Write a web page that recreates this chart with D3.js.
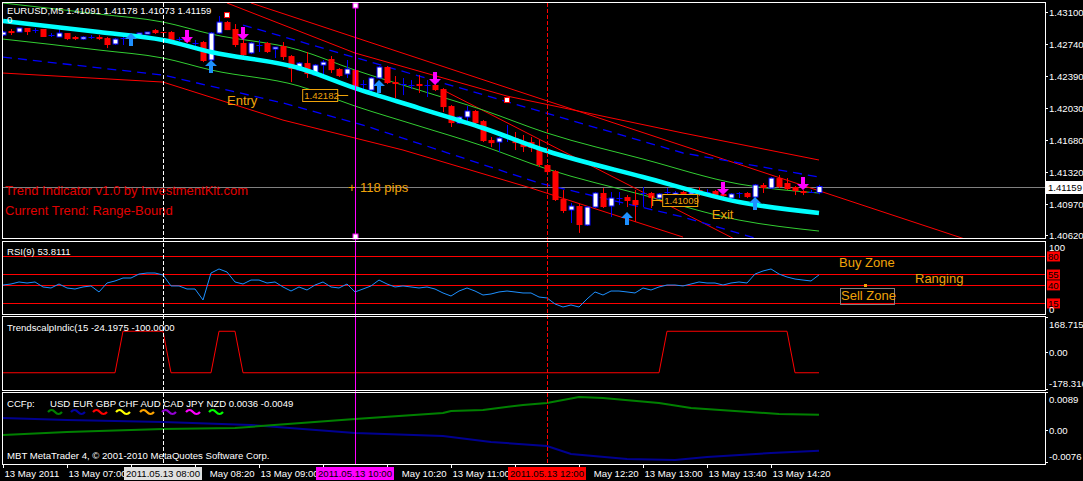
<!DOCTYPE html>
<html><head><meta charset="utf-8">
<script src="https://cdn.jsdelivr.net/npm/d3@7/dist/d3.min.js"></script>
<style>
body{margin:0;background:#000;}
svg{display:block;}
text{font-family:"Liberation Sans",Arial,sans-serif;}
</style></head><body>
<svg id="c" width="1083" height="481"></svg>
<script>
// ---------------- DATA ----------------
const headerText = "EURUSD,M5  1.41091 1.41178 1.41073 1.41159";
const startTime = "06:20";
const barMinutes = 5;
const open  = [1.42844,1.42888,1.42877,1.42922,1.42899,1.42911,1.42844,1.42822,1.42866,1.42822,1.42799,1.42822,1.42822,1.42810,1.42744,1.42810,1.42844,1.42844,1.42855,1.42899,1.42877,1.42877,1.42799,1.42810,1.42755,1.42766,1.42566,1.42866,1.42988,1.42911,1.42755,1.42644,1.42733,1.42755,1.42688,1.42721,1.42610,1.42454,1.42532,1.42399,1.42510,1.42577,1.42466,1.42410,1.42454,1.42299,1.42232,1.42366,1.42488,1.42321,1.42299,1.42288,1.42299,1.42288,1.42288,1.42243,1.42054,1.41865,1.41932,1.41999,1.41887,1.41676,1.41654,1.41709,1.41698,1.41642,1.41654,1.41587,1.41398,1.41331,1.41020,1.40898,1.40942,1.40731,1.40931,1.41087,1.40942,1.41031,1.41042,1.41009,1.41087,1.41087,1.41031,1.41098,1.41064,1.41098,1.41076,1.41120,1.41098,1.41109,1.41076,1.41031,1.41087,1.41087,1.41042,1.41176,1.41142,1.41253,1.41198,1.41154,1.41109,1.41098,1.41091];
const high  = [1.42888,1.42911,1.42922,1.42922,1.42922,1.42911,1.42866,1.42922,1.42866,1.42833,1.42833,1.42844,1.42844,1.42822,1.42810,1.42822,1.42855,1.42866,1.42877,1.42911,1.42877,1.42888,1.42822,1.42822,1.42788,1.42777,1.42877,1.43055,1.43000,1.42966,1.42788,1.42766,1.42788,1.42766,1.42710,1.42766,1.42621,1.42543,1.42655,1.42521,1.42566,1.42610,1.42477,1.42566,1.42466,1.42343,1.42377,1.42499,1.42499,1.42388,1.42366,1.42343,1.42399,1.42343,1.42299,1.42254,1.42065,1.41943,1.42054,1.42010,1.41898,1.41709,1.41709,1.41843,1.41765,1.41732,1.41709,1.41676,1.41409,1.41342,1.41120,1.40976,1.40964,1.40942,1.41098,1.41142,1.41098,1.41098,1.41064,1.41120,1.41154,1.41098,1.41087,1.41142,1.41109,1.41109,1.41109,1.41154,1.41131,1.41120,1.41087,1.41087,1.41098,1.41098,1.41187,1.41198,1.41264,1.41287,1.41253,1.41165,1.41120,1.41120,1.41178];
const low   = [1.42833,1.42844,1.42877,1.42844,1.42866,1.42822,1.42822,1.42822,1.42788,1.42788,1.42788,1.42799,1.42788,1.42699,1.42733,1.42733,1.42822,1.42844,1.42855,1.42855,1.42866,1.42766,1.42777,1.42755,1.42721,1.42543,1.42555,1.42855,1.42899,1.42710,1.42610,1.42632,1.42655,1.42644,1.42588,1.42566,1.42321,1.42443,1.42366,1.42388,1.42377,1.42421,1.42377,1.42366,1.42254,1.42232,1.42221,1.42354,1.42299,1.42143,1.42176,1.42243,1.42199,1.42154,1.42221,1.41988,1.41821,1.41854,1.41865,1.41854,1.41654,1.41598,1.41543,1.41654,1.41565,1.41543,1.41543,1.41376,1.41309,1.40998,1.40864,1.40753,1.40643,1.40720,1.40920,1.40920,1.40820,1.40953,1.40931,1.40764,1.40931,1.40920,1.41020,1.41042,1.41053,1.41053,1.41064,1.41053,1.41064,1.41053,1.41042,1.41020,1.41031,1.41031,1.41031,1.41087,1.41131,1.41142,1.41120,1.41064,1.41064,1.41087,1.41073];
const close = [1.42877,1.42866,1.42922,1.42877,1.42899,1.42822,1.42844,1.42866,1.42799,1.42799,1.42822,1.42822,1.42799,1.42733,1.42799,1.42810,1.42844,1.42866,1.42877,1.42866,1.42866,1.42777,1.42799,1.42766,1.42755,1.42555,1.42866,1.42988,1.42899,1.42733,1.42621,1.42755,1.42733,1.42655,1.42710,1.42599,1.42466,1.42532,1.42410,1.42510,1.42543,1.42454,1.42388,1.42466,1.42265,1.42299,1.42366,1.42488,1.42310,1.42299,1.42299,1.42288,1.42277,1.42288,1.42232,1.42043,1.41865,1.41932,1.41999,1.41865,1.41665,1.41642,1.41698,1.41709,1.41642,1.41598,1.41587,1.41398,1.41320,1.41009,1.40887,1.40942,1.40731,1.40931,1.41087,1.40931,1.41031,1.41031,1.40998,1.40953,1.41087,1.41031,1.41076,1.41098,1.41087,1.41064,1.41098,1.41064,1.41098,1.41064,1.41053,1.41076,1.41087,1.41042,1.41176,1.41142,1.41253,1.41154,1.41131,1.41109,1.41087,1.41098,1.41159];

// moving average (cyan) and bands: [bar index, price]
const maLine     = [[0,1.43000],[12,1.42877],[20,1.42788],[26,1.42655],[37,1.42477],[44,1.42254],[52,1.42032],[60,1.41810],[68,1.41554],[80,1.41265],[92,1.40987],[102,1.40864]];
const greenUpper = [[0,1.43200],[12,1.43077],[20,1.42988],[26,1.42855],[37,1.42677],[44,1.42454],[52,1.42232],[60,1.42010],[68,1.41754],[80,1.41465],[92,1.41187],[102,1.41087]];
const greenLower = [[0,1.42799],[12,1.42677],[20,1.42588],[26,1.42455],[37,1.42277],[44,1.42054],[52,1.41832],[60,1.41610],[68,1.41354],[80,1.41065],[92,1.40786],[102,1.40664]];
const redUpper   = [[28,1.43200],[44,1.42644],[63,1.42165],[85,1.41754],[102,1.41454]];
const redLong    = [[31,1.43200],[120.25,1.40575]];
const redSteep   = [[55,1.42232],[92,1.40550]];
const redLower   = [[0,1.42421],[20,1.42321],[35,1.41898],[50,1.41565],[66,1.41142],[85,1.40597]];
const blueUpper  = [[30,1.42955],[55,1.42310],[85,1.41532],[102,1.41265]];
const blueLower  = [[0,1.42599],[20,1.42399],[35,1.42088],[45,1.41843],[67,1.41198],[85,1.40820],[94,1.40586]];

const arrowsUp   = [[16,1.42866],[26,1.42566],[47,1.42343],[78,1.40875],[94,1.41042]];
const arrowsDown = [[23,1.42755],[30,1.42788],[54,1.42288],[90,1.41064],[100,1.41120]];
const squareMarks = [[28,1.43066],[63,1.42121]];

const currentPrice = 1.41159;
const priceTicks = [1.43100,1.42740,1.42390,1.42030,1.41680,1.41320,1.40970,1.40620];

const rsiValues = [39.8,41.2,44.0,42.6,44.0,37.1,35.7,41.2,35.7,34.3,37.1,38.5,30.2,42.6,45.4,49.5,49.5,55.0,56.4,56.4,53.7,38.5,38.5,34.3,34.3,19.1,56.4,62.0,57.8,44.0,41.2,46.7,46.7,42.6,44.0,37.1,31.5,37.1,32.9,39.8,44.0,37.1,35.7,41.2,30.2,34.3,38.5,46.7,41.2,37.1,38.5,37.1,35.7,37.1,34.3,28.8,24.6,31.5,35.7,31.5,26.0,27.4,30.2,31.5,30.2,28.8,28.8,23.2,21.9,13.6,9.4,12.2,9.4,20.5,30.2,26.0,31.5,31.5,30.2,28.8,35.7,32.9,37.1,39.8,39.8,38.5,41.2,44.0,42.6,42.6,39.8,42.6,44.0,42.6,55.0,59.2,62.0,55.0,50.9,48.1,46.7,45.4,53.8];
const rsiLast = "53.8111";
const rsiLevels = [80,55,40,15];

const tsValues = [-100,-100,-100,-100,-100,-100,-100,-100,-100,-100,-100,-100,-100,-100,-100,100,100,100,100,100,100,-100,-100,-100,-100,-100,-100,100,100,100,-100,-100,-100,-100,-100,-100,-100,-100,-100,-100,-100,-100,-100,-100,-100,-100,-100,-100,-100,-100,-100,-100,-100,-100,-100,-100,-100,-100,-100,-100,-100,-100,-100,-100,-100,-100,-100,-100,-100,-100,-100,-100,-100,-100,-100,-100,-100,-100,-100,-100,-100,-100,-100,100,100,100,100,100,100,100,100,100,100,100,100,100,100,100,100,-100,-100,-100,-100];

const ccfUSD = [[0,-0.00118],[8,-0.00047],[20,0.00024],[29,0.00047],[44,0.00259],[55,0.00401],[56,0.00448],[60,0.00471],[65,0.00589],[68,0.00637],[72,0.00778],[75,0.00754],[82,0.00637],[86,0.00519],[97,0.00377],[102,0.0036]];
const ccfEUR = [[0,0.00283],[8,0.00236],[20,0.00189],[31,0.00118],[44,-0.00071],[55,-0.00141],[59,-0.00236],[61,-0.00283],[68,-0.00377],[71,-0.00566],[78,-0.00684],[84,-0.00707],[88,-0.00636],[96,-0.00542],[102,-0.0049]];
const ccfNames  = ["USD","EUR","GBP","CHF","AUD","CAD","JPY","NZD"];
const ccfColors = ["#008000","#0000a0","#ff0000","#ffff00","#ffa500","#9400d3","#ff00ff","#00ff00"];

const tickTimes  = ["06:20","07:00","07:40","08:20","09:00","09:40","10:20","11:00","11:40","12:20","13:00","13:40","14:20"];
const tickLabels = ["13 May 2011","13 May 07:00","13 May 07:40","13 May 08:20","13 May 09:00","13 May 09:40","13 May 10:20","13 May 11:00","13 May 11:40","13 May 12:20","13 May 13:00","13 May 13:40","13 May 14:20"];
const vlineTimes  = ["08:00","10:00","12:00"];
const vlineLabels = ["2011.05.13 08:00","2011.05.13 10:00","2011.05.13 12:00"];

// ---------------- CHART ----------------
const svg = d3.select("#c");
const orange = "#f0a30a";
const parse = t => { const [h,m] = t.split(":").map(Number); return new Date(2011,4,13,h,m); };
const t0 = parse(startTime);
const barTime = i => new Date(t0.getTime() + i*barMinutes*60000);
const L = 2, R = 1045;
const x = d3.scaleTime().domain([t0, barTime(130.25)]).range([3, 1045]);
const xb = i => x(barTime(i));

const P = {main:[2,238], rsi:[241,314], ts:[316,390], ccf:[392,464]};
const yP = d3.scaleLinear().domain([1.4062,1.4310]).range([235,12]);
const yR = d3.scaleLinear().domain([0,100]).range([313.8,241.5]);
const yT = d3.scaleLinear().domain([-178.316,168.715]).range([389,317]);
const yC = d3.scaleLinear().domain([-0.0076,0.0089]).range([462.2,392.2]);

svg.append("rect").attr("width",1083).attr("height",481).attr("fill","#000");
const defs = svg.append("defs");
Object.entries(P).forEach(([k,[a,b]]) => {
  defs.append("clipPath").attr("id","clip-"+k).append("rect")
    .attr("x",L+1).attr("y",a+1).attr("width",R-L-1).attr("height",b-a-1);
});
const gMain = svg.append("g").attr("clip-path","url(#clip-main)");
const lineP = d3.line().x(d=>xb(d[0])).y(d=>yP(d[1]));

// current price line
gMain.append("line").attr("x1",L).attr("x2",R).attr("y1",Math.round(yP(currentPrice))+0.5).attr("y2",Math.round(yP(currentPrice))+0.5)
  .attr("stroke","#808080");

[redUpper,redLong,redSteep,redLower].forEach(d=>gMain.append("path").attr("d",lineP(d)).attr("fill","none").attr("stroke","#ff0000").attr("stroke-width",1));
[blueUpper,blueLower].forEach(d=>gMain.append("path").attr("d",lineP(d)).attr("fill","none").attr("stroke","#0000ff").attr("stroke-width",1.3).attr("stroke-dasharray","9,6"));
[greenUpper,greenLower].forEach(d=>gMain.append("path").attr("d",d3.line().curve(d3.curveMonotoneX).x(d=>xb(d[0])).y(d=>yP(d[1]))(d)).attr("fill","none").attr("stroke","#32cd32").attr("stroke-width",1));

// candles
open.forEach((o,i)=>{
  const c = close[i], h = high[i], l = low[i], cx = Math.round(xb(i))+0.5;
  const bull = c > o, doji = Math.abs(c-o) < 0.00002;
  const col = doji ? "#0000ff" : (bull ? "#0000ff" : "#ff0000");
  gMain.append("line").attr("x1",cx).attr("x2",cx).attr("y1",yP(h)).attr("y2",yP(l)).attr("stroke",col);
  const top = yP(Math.max(o,c)), bot = yP(Math.min(o,c));
  if (doji) {
    gMain.append("line").attr("x1",cx-3).attr("x2",cx+3).attr("y1",Math.round(top)+0.5).attr("y2",Math.round(top)+0.5).attr("stroke",col);
  } else if (bull) {
    gMain.append("rect").attr("x",cx-2.5).attr("y",top).attr("width",5).attr("height",Math.max(1,bot-top)).attr("fill","#fff").attr("stroke","#0000ff");
  } else {
    gMain.append("rect").attr("x",cx-3).attr("y",top).attr("width",6).attr("height",Math.max(1,bot-top)).attr("fill","#ff0000");
  }
});

// MA cyan
gMain.append("path").attr("d",d3.line().curve(d3.curveMonotoneX).x(d=>xb(d[0])).y(d=>yP(d[1]))(maLine))
  .attr("fill","none").attr("stroke","#00ffff").attr("stroke-width",4.5);

// arrows
const upPath = "M0,0 L6,6 L2,6 L2,13 L-2,13 L-2,6 L-6,6 Z";
arrowsUp.forEach(([i,p])=>gMain.append("path").attr("d",upPath).attr("transform",`translate(${xb(i)},${yP(p)})`).attr("fill","#1e90ff"));
arrowsDown.forEach(([i,p])=>gMain.append("path").attr("d",upPath).attr("transform",`translate(${xb(i)},${yP(p)}) scale(1,-1)`).attr("fill","#ff00ff"));
squareMarks.forEach(([i,p])=>gMain.append("rect").attr("x",xb(i)-2.5).attr("y",yP(p)-2.5).attr("width",5).attr("height",5).attr("fill","#fff").attr("stroke","#ff0000"));

// annotations
gMain.append("text").attr("x",xb(28)).attr("y",yP(1.42065)).attr("fill",orange).attr("font-size",13).text("Entry");
gMain.append("text").attr("x",xb(88.6)).attr("y",yP(1.40800)).attr("fill",orange).attr("font-size",13).text("Exit");
function priceBox(bar, p, lineDir){
  const bx = xb(bar), by = yP(p);
  gMain.append("rect").attr("x",bx+0.5).attr("y",Math.round(by)-5.5).attr("width",35).attr("height",12).attr("fill","#000").attr("stroke",orange);
  gMain.append("text").attr("x",bx+2).attr("y",Math.round(by)+4).attr("fill",orange).attr("font-size",9.6).text(p.toFixed(5));
  if (lineDir>0) gMain.append("line").attr("x1",bx+35.5).attr("x2",bx+46).attr("y1",Math.round(by)+0.5).attr("y2",Math.round(by)+0.5).attr("stroke",orange);
  else { gMain.append("line").attr("x1",bx-10).attr("x2",bx).attr("y1",Math.round(by)+0.5).attr("y2",Math.round(by)+0.5).attr("stroke",orange);
         gMain.append("line").attr("x1",bx-9.5).attr("x2",bx-9.5).attr("y1",Math.round(by)-4).attr("y2",Math.round(by)+6).attr("stroke",orange); }
}
priceBox(37.4, 1.42182, 1);
priceBox(82.4, 1.41009, -1);
svg.append("text").attr("x",5).attr("y",195).attr("fill","#e00000").attr("font-size",13).text("Trend Indicator v1.0 by InvestmentKit.com");
svg.append("text").attr("x",5).attr("y",215).attr("fill","#e00000").attr("font-size",13).text("Current Trend: Range-Bound");
gMain.append("text").attr("x",xb(44)-7).attr("y",yP(currentPrice)+5).attr("fill",orange).attr("font-size",13).text("+");
gMain.append("text").attr("x",xb(44)+5).attr("y",yP(currentPrice)+5).attr("fill",orange).attr("font-size",13).text("118 pips");

// RSI panel
const gR = svg.append("g").attr("clip-path","url(#clip-rsi)");
rsiLevels.forEach(v=>gR.append("line").attr("x1",L).attr("x2",R).attr("y1",Math.round(yR(v))+0.5).attr("y2",Math.round(yR(v))+0.5).attr("stroke","#ff0000"));
gR.append("path").attr("d",d3.line().x((d,i)=>xb(i)).y(d=>yR(d))(rsiValues)).attr("fill","none").attr("stroke","#1e90ff");
gR.append("text").attr("x",839).attr("y",yR(65)).attr("fill",orange).attr("font-size",13).text("Buy Zone");
gR.append("text").attr("x",915).attr("y",yR(42)).attr("fill",orange).attr("font-size",13).text("Ranging");
gR.append("rect").attr("x",840.5).attr("y",288.5).attr("width",54).attr("height",16).attr("fill","none").attr("stroke","#808080");
gR.append("text").attr("x",841).attr("y",yR(19)).attr("fill",orange).attr("font-size",13).text("Sell Zone");
gR.append("rect").attr("x",864).attr("y",284).attr("width",3).attr("height",3).attr("fill",orange);

// TS panel
const gT = svg.append("g").attr("clip-path","url(#clip-ts)");
gT.append("path").attr("d",d3.line().x((d,i)=>xb(i)).y(d=>yT(d))(tsValues)).attr("fill","none").attr("stroke","#ff0000");

// CCF panel
const gC = svg.append("g").attr("clip-path","url(#clip-ccf)");
const lineC = d3.line().x(d=>xb(d[0])).y(d=>yC(d[1]));
gC.append("path").attr("d",lineC(ccfEUR)).attr("fill","none").attr("stroke","#000090").attr("stroke-width",2);
gC.append("path").attr("d",lineC(ccfUSD)).attr("fill","none").attr("stroke","#008000").attr("stroke-width",2);

// vertical marker lines
const vcol = ["#ffffff","#ff00ff","#ff0000"];
vlineTimes.forEach((t,k)=>{
  const vx = Math.round(x(parse(t)))+0.5;
  svg.append("line").attr("x1",vx).attr("x2",vx).attr("y1",P.main[0]+1).attr("y2",P.ccf[1])
    .attr("stroke",vcol[k]).attr("stroke-dasharray",k===1?null:"4,2");
});
{
  const vx = Math.round(x(parse(vlineTimes[1])));
  [5,236].forEach(yy=>svg.append("rect").attr("x",vx-2).attr("y",yy-2).attr("width",5).attr("height",5).attr("fill","#fff").attr("stroke","#ff00ff"));
}

// panel frames
Object.values(P).forEach(([a,b])=>svg.append("rect").attr("x",L+0.5).attr("y",a+0.5).attr("width",R-L).attr("height",b-a).attr("fill","none").attr("stroke","#fff"));

// panel titles
const small = 9.6;
svg.append("text").attr("x",7).attr("y",14).attr("fill","#fff").attr("font-size",small).text(headerText);
svg.append("text").attr("x",7).attr("y",23).attr("fill","#fff").attr("font-size",small).text("0");
svg.append("text").attr("x",7).attr("y",255).attr("fill","#fff").attr("font-size",small).text("RSI(9) " + rsiLast);
svg.append("text").attr("x",7).attr("y",331).attr("fill","#fff").attr("font-size",small).text("TrendscalpIndic(15 -24.1975 -100.0000");
svg.append("text").attr("x",7).attr("y",407).attr("fill","#fff").attr("font-size",small).text("CCFp:");
svg.append("text").attr("x",50).attr("y",407).attr("fill","#fff").attr("font-size",small)
  .text(ccfNames.join(" ") + " " + ccfUSD[ccfUSD.length-1][1].toFixed(4) + " " + ccfEUR[ccfEUR.length-1][1].toFixed(4));
const wx = [55,78,100,123,147,169,193,216];
ccfNames.forEach((n,k)=>svg.append("path").attr("d",`M${wx[k]-7},412 q3.5,-4 7,0 t7,0`).attr("fill","none").attr("stroke",ccfColors[k]).attr("stroke-width",2.2));
svg.append("text").attr("x",7).attr("y",459).attr("fill","#fff").attr("font-size",small).text("MBT MetaTrader 4, \u00a9 2001-2010 MetaQuotes Software Corp.");

// right axes
const ax = svg.append("g");
function rtick(y, label, dy){
  ax.append("line").attr("x1",R).attr("x2",R+3).attr("y1",Math.round(y)+0.5).attr("y2",Math.round(y)+0.5).attr("stroke","#fff");
  ax.append("text").attr("x",1049).attr("y",y+4+(dy||0)).attr("fill","#fff").attr("font-size",small).text(label);
}
priceTicks.forEach(v=>rtick(yP(v), v.toFixed(5)));
ax.append("rect").attr("x",1046).attr("y",Math.round(yP(currentPrice))-6).attr("width",37).attr("height",13).attr("fill","#fff");
ax.append("text").attr("x",1048).attr("y",Math.round(yP(currentPrice))+4).attr("fill","#000").attr("font-size",small).text(currentPrice.toFixed(5));
ax.append("text").attr("x",1049).attr("y",yR(100)+9).attr("fill","#fff").attr("font-size",small).text("100");
rsiLevels.forEach(v=>{
  ax.append("rect").attr("x",1047).attr("y",yR(v)-4.5).attr("width",13).attr("height",10).attr("fill","#ff0000");
  ax.append("text").attr("x",1048).attr("y",yR(v)+4).attr("fill","#000").attr("font-size",small).text(v);
});
ax.append("text").attr("x",1049).attr("y",yR(0)-0.5).attr("fill","#fff").attr("font-size",small).text("0");
rtick(yT(168.715), "168.715", 7); rtick(yT(0), "0.00"); rtick(yT(-178.316), "-178.316", -6);
rtick(yC(0.0089), "0.0089", 7); rtick(yC(0), "0.00"); rtick(yC(-0.0076), "-0.0076", -6);

// time axis
const tg = svg.append("g");
const boxW = 78;
const boxes = vlineTimes.map(t => [x(parse(t)) - boxW/2, x(parse(t)) + boxW/2]);
tickTimes.forEach((t,k)=>{
  const tx = Math.round(x(parse(t)))+0.5;
  tg.append("line").attr("x1",tx).attr("x2",tx).attr("y1",464).attr("y2",468).attr("stroke","#fff");
  const lab = tg.append("text").attr("x",tx+1).attr("y",477).attr("fill","#fff").attr("font-size",small).text(tickLabels[k]);
  const w = lab.node().getComputedTextLength();
  const s = tx+1, e = s + w;
  // a label whose start lies under a highlight box shows only its part right of the box
  const cov = boxes.find(([a,b]) => s >= a - 1 && s < b);
  if (cov) {
    if (e <= cov[1] + 4) { lab.remove(); }
    else {
      const words = tickLabels[k].split(" ");
      let txt = tickLabels[k];
      while (words.length > 1) {
        words.shift(); const cand = words.join(" ");
        lab.text(cand);
        if (e - lab.node().getComputedTextLength() >= cov[1] + 2) { txt = cand; break; }
      }
      lab.text(txt).attr("x", e).attr("text-anchor","end");
    }
  }
});
const boxFill = ["#e0e0e0","#ff00ff","#ff0000"];
vlineTimes.forEach((t,k)=>{
  const tx = x(parse(t));
  tg.append("rect").attr("x",tx-boxW/2).attr("y",467).attr("width",boxW).attr("height",13).attr("fill",boxFill[k]);
  tg.append("text").attr("x",tx).attr("y",477).attr("text-anchor","middle").attr("fill","#000").attr("font-size",small).text(vlineLabels[k]);
});
</script>
</body></html>
